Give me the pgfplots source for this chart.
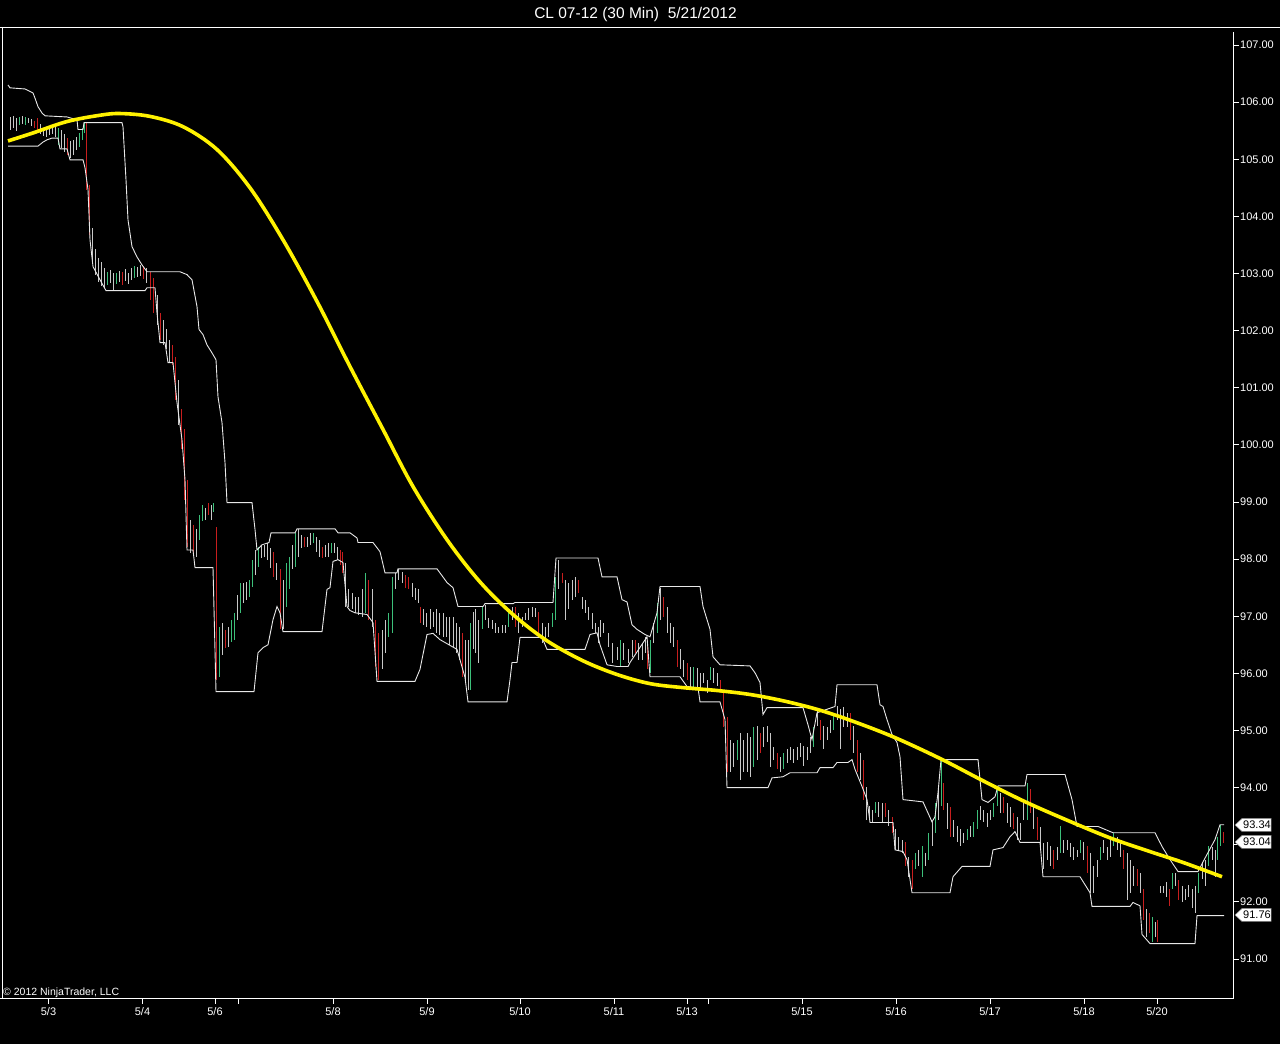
\documentclass[border=0pt]{standalone}
\usepackage{fontspec}
\setmainfont{Liberation Sans}
\usepackage{pgfplots}
\pgfplotsset{compat=1.18}
\usepackage{pgfplotstable}
\definecolor{bargray}{HTML}{C8C8C8}
\definecolor{bargreen}{HTML}{3CC07A}
\definecolor{barred}{HTML}{C81E1E}
\definecolor{chan}{HTML}{E8E8E8}
\newcommand\lbl{\fontsize{11}{13}\selectfont}

\pgfplotstableread{
x h l
10 105.74 105.52
13 105.76 105.55
16 105.73 105.50
22 105.76 105.62
28 105.73 105.64
31 105.71 105.59
40 105.62 105.45
43 105.55 105.41
46 105.52 105.39
49 105.53 105.43
52 105.57 105.45
55 105.59 105.39
61 105.52 105.20
64 105.45 105.13
70 105.32 105.03
73 105.34 105.08
76 105.39 105.16
92 103.80 103.20
95 103.42 102.98
98 103.28 102.86
101 103.20 102.79
104 103.10 102.75
110 103.07 102.84
113 103.01 102.70
119 103.05 102.86
125 103.07 102.87
128 103.01 102.82
131 103.10 102.89
137 103.12 102.94
140 103.15 102.96
146 103.10 102.84
157 102.63 102.10
163 102.19 101.75
166 102.02 101.67
169 101.84 101.45
178 101.14 100.35
190 98.69 98.11
196 98.52 98.04
205 98.90 98.69
211 98.95 98.69
222 96.89 96.33
228 96.82 96.47
237 97.38 96.94
243 97.59 97.24
246 97.60 97.29
255 98.16 97.73
261 98.25 98.02
264 98.25 98.04
267 98.29 97.99
270 98.20 97.85
276 97.94 97.64
283 97.64 96.77
292 98.25 97.82
298 98.52 98.04
301 98.43 98.20
307 98.39 98.22
310 98.46 98.25
316 98.39 98.13
319 98.34 98.04
325 98.25 98.04
328 98.29 98.04
334 98.29 98.11
337 98.22 97.99
345 97.94 97.17
348 97.47 97.17
352 97.41 97.12
355 97.34 97.06
358 97.34 97.03
362 97.47 96.99
372 97.47 96.82
382 96.76 96.07
385 96.94 96.36
395 97.76 97.47
398 97.82 97.64
402 97.78 97.59
412 97.59 97.34
415 97.50 97.29
418 97.47 97.24
423 97.12 96.85
426 97.06 96.82
430 97.12 96.77
433 97.08 96.82
436 97.12 96.71
439 97.06 96.68
443 97.06 96.64
446 96.99 96.64
449 96.99 96.50
453 96.99 96.47
456 96.89 96.36
459 96.82 96.24
465 96.59 95.89
468 96.59 95.71
473 97.08 96.42
475 97.12 96.36
478 96.94 96.19
485 97.20 96.94
488 96.97 96.80
492 96.94 96.77
495 96.89 96.71
498 96.82 96.71
502 96.85 96.71
505 96.85 96.71
512 97.17 96.94
518 97.06 96.71
522 96.99 96.82
525 97.06 96.94
528 97.15 96.94
532 97.17 96.99
535 97.15 96.99
542 96.89 96.54
545 96.82 96.59
548 96.89 96.64
558 97.99 97.47
565 97.64 96.94
568 97.59 97.12
572 97.64 97.29
575 97.69 97.34
582 97.34 97.12
585 97.29 97.06
588 97.17 96.94
592 97.06 96.77
595 96.89 96.71
598 96.82 96.54
600 96.94 96.64
603 96.89 96.71
608 96.71 96.47
612 96.54 96.19
617 96.47 96.24
623 96.54 96.24
628 96.42 96.19
632 96.59 96.29
638 96.54 96.24
642 96.54 96.24
645 96.64 96.36
653 96.89 96.54
660 97.50 96.94
667 97.17 96.71
670 96.89 96.54
673 96.82 96.47
680 96.42 96.07
683 96.24 95.94
690 96.12 95.77
697 96.10 95.77
700 96.01 95.71
703 96.01 95.84
707 95.89 95.66
713 96.10 95.84
717 96.01 95.77
730 94.84 94.27
733 94.79 94.37
740 94.96 94.14
743 94.84 94.27
747 94.96 94.27
750 94.89 94.19
757 95.07 94.49
763 95.07 94.72
767 95.07 94.79
770 94.96 94.37
773 94.72 94.49
780 94.54 94.27
787 94.67 94.44
790 94.72 94.49
793 94.67 94.44
797 94.72 94.49
800 94.79 94.54
803 94.72 94.37
807 94.72 94.49
810 94.89 94.61
817 95.37 95.07
823 95.07 94.67
827 95.07 94.84
830 95.19 94.96
837 95.42 95.19
840 95.37 94.67
843 95.42 95.07
847 95.31 95.07
853 95.07 94.61
860 94.61 94.14
866 94.01 93.44
869 93.67 93.44
872 93.61 93.39
878 93.75 93.49
882 93.74 93.39
888 93.61 93.32
895 93.27 92.91
898 93.14 92.91
902 93.09 92.86
908 92.79 92.44
918 92.91 92.62
925 92.86 92.62
932 93.39 92.97
938 94.01 93.44
947 93.74 93.27
953 93.44 93.14
957 93.32 93.04
960 93.27 92.97
963 93.21 93.04
970 93.32 93.14
980 93.67 93.44
983 93.61 93.39
987 93.56 93.32
990 93.61 93.44
1000 93.91 93.56
1007 93.74 93.39
1010 93.67 93.32
1017 93.49 93.09
1020 93.39 93.09
1023 93.74 93.44
1033 93.67 93.27
1040 93.32 92.97
1043 93.04 92.57
1047 93.04 92.74
1050 92.97 92.62
1057 92.97 92.74
1063 93.09 92.86
1067 93.09 92.91
1070 93.04 92.79
1073 92.97 92.74
1077 92.91 92.79
1083 93.04 92.74
1090 92.86 92.16
1093 92.62 92.16
1097 92.74 92.44
1103 93.09 92.86
1107 92.97 92.74
1110 93.09 92.79
1117 93.14 92.91
1120 93.09 92.79
1127 92.86 92.04
1130 92.74 92.16
1133 92.62 92.27
1140 92.51 92.16
1146 91.87 91.39
1155 91.64 91.39
1160 92.27 92.16
1163 92.27 92.16
1166 92.34 92.09
1175 92.51 92.27
1182 92.27 91.99
1185 92.22 92.04
1188 92.30 92.09
1192 92.22 91.90
1195 92.27 91.81
1202 92.69 92.40
1205 92.74 92.27
1212 92.97 92.74
1215 92.91 92.44
}\graybars

\pgfplotstableread{
x h l
19 105.74 105.60
25 105.74 105.60
58 105.55 105.25
79 105.46 105.22
82 105.55 105.34
84 105.64 105.46
107 103.03 102.79
116 103.00 102.82
134 103.13 102.93
199 98.78 98.34
202 98.95 98.66
213 98.99 98.83
219 96.82 95.94
231 96.94 96.55
234 97.06 96.59
240 97.59 97.06
249 97.64 97.34
252 97.99 97.52
258 98.22 97.87
286 97.94 97.17
289 98.04 97.47
295 98.46 97.87
313 98.46 98.29
331 98.29 98.11
365 97.76 97.06
388 97.06 96.64
392 97.69 96.71
470 96.89 95.71
482 97.17 96.77
508 97.08 96.82
552 97.06 96.82
555 97.69 96.94
620 96.59 96.12
650 96.59 96.01
657 97.24 96.71
693 96.12 95.71
710 96.12 95.89
737 94.84 94.49
753 95.07 94.37
783 94.61 94.32
813 95.07 94.72
833 95.31 95.01
875 93.75 93.56
915 92.86 92.57
922 92.97 92.44
928 93.21 92.74
935 93.74 93.21
941 94.49 93.67
967 93.27 93.09
973 93.39 93.14
977 93.61 93.27
993 93.74 93.49
997 94.01 93.67
1027 94.09 93.44
1060 93.32 92.86
1080 93.09 92.86
1100 92.97 92.74
1113 93.21 92.97
1152 91.74 91.29
1172 92.51 92.22
1198 92.51 92.16
1208 92.97 92.62
1217 93.14 92.74
1220 93.35 92.97
}\greenbars

\pgfplotstableread{
x h l
34 105.67 105.55
37 105.73 105.48
67 105.38 105.08
86 105.64 104.47
89 104.55 103.68
122 103.03 102.80
143 103.13 102.91
150 103.03 102.54
153 102.92 102.31
160 102.31 101.84
172 101.75 101.40
175 101.54 100.79
181 100.62 99.92
184 100.27 99.04
187 99.39 98.22
193 98.60 98.08
208 98.99 98.78
216 98.57 95.89
225 96.76 96.45
273 98.13 97.69
280 97.82 96.77
304 98.39 98.22
322 98.22 98.02
340 98.16 97.90
342 98.13 97.76
368 97.64 96.94
375 96.94 96.12
378 96.71 95.89
405 97.73 97.50
408 97.69 97.47
420 97.17 96.89
462 96.71 95.94
515 97.17 96.82
538 97.08 96.64
562 97.76 97.59
578 97.64 97.41
635 96.59 96.36
647 96.59 96.07
663 97.34 96.99
677 96.59 96.12
687 96.19 95.89
720 95.89 95.66
723 95.71 95.07
727 95.24 94.27
760 94.96 94.61
777 94.61 94.32
820 95.19 94.84
850 95.31 94.84
857 94.84 94.27
863 94.49 93.79
885 93.74 93.49
892 93.49 93.21
905 93.04 92.62
912 92.74 92.22
943 94.09 93.61
950 93.67 93.14
1003 93.84 93.56
1013 93.56 93.27
1030 93.97 93.56
1037 93.49 93.09
1053 92.91 92.57
1087 92.97 92.51
1123 92.91 92.57
1137 92.57 92.27
1143 92.22 91.69
1149 91.81 91.46
1157 91.69 91.29
1169 92.22 91.92
1178 92.39 92.04
1223 93.22 93.04
}\redbars

\pgfplotstableread{
x p
8 106.30
10 106.25
25 106.23
33 106.16
35 106.07
38 105.92
42 105.81
45 105.76
67 105.74
77 105.69
78 105.52
83 105.52
84 105.64
122 105.64
123 105.57
126 104.64
128 103.94
132 103.47
137 103.29
142 103.15
147 103.03
180 103.03
187 102.98
192 102.89
197 102.42
199 102.02
203 101.93
207 101.75
212 101.61
216 101.49
218 100.84
222 100.39
225 99.69
227 98.99
252 98.99
255 98.52
257 98.16
262 98.25
269 98.29
271 98.46
295 98.46
297 98.53
335 98.53
338 98.46
350 98.46
357 98.37
358 98.29
373 98.29
380 98.13
385 97.76
397 97.76
398 97.83
437 97.83
447 97.59
453 97.50
458 97.17
483 97.17
485 97.22
513 97.22
515 97.24
553 97.24
556 98.02
598 98.02
602 97.69
617 97.69
622 97.29
627 97.25
632 96.85
637 96.77
645 96.68
650 96.64
657 97.06
660 97.52
700 97.52
703 97.17
710 96.77
713 96.29
720 96.15
750 96.13
755 96.01
760 95.84
763 95.28
767 95.40
803 95.40
808 95.10
812 94.84
817 95.31
835 95.42
837 95.80
877 95.80
880 95.45
883 95.42
887 95.19
892 94.93
897 94.79
900 94.54
903 93.79
923 93.75
932 93.40
935 93.49
938 93.91
941 94.49
978 94.49
982 93.79
988 93.74
995 93.84
998 94.03
1025 94.03
1027 94.23
1065 94.23
1072 93.79
1077 93.32
1098 93.32
1113 93.21
1155 93.21
1162 92.97
1170 92.74
1178 92.53
1198 92.53
1203 92.70
1215 93.09
1220 93.35
1224 93.35
}\uppertab

\pgfplotstableread{
x p
8 105.23
38 105.23
43 105.30
47 105.34
52 105.37
58 105.37
60 105.18
67 105.18
70 104.99
83 104.99
85 104.85
88 104.47
90 103.59
93 103.12
100 102.89
106 102.70
145 102.70
147 102.75
155 102.75
157 102.31
160 101.79
165 101.79
168 101.44
173 101.44
177 100.74
182 100.09
185 99.39
187 98.16
193 98.16
195 97.85
213 97.85
216 95.68
254 95.68
258 96.36
263 96.45
268 96.50
273 96.94
277 97.17
280 97.06
283 96.73
322 96.73
327 97.47
330 97.50
333 97.96
338 97.99
343 97.94
347 97.17
350 97.10
355 97.06
367 97.03
373 96.89
377 95.86
415 95.86
420 96.07
427 96.68
433 96.70
440 96.59
457 96.42
465 95.93
468 95.50
507 95.50
510 95.89
512 96.19
517 96.19
520 96.63
542 96.63
547 96.42
585 96.42
590 96.68
597 96.71
600 96.50
607 96.15
617 96.12
628 96.12
630 96.19
647 96.64
650 95.94
680 95.94
687 95.77
698 95.75
700 95.50
720 95.50
725 95.19
727 94.00
768 94.00
772 94.17
783 94.19
790 94.26
817 94.26
820 94.35
833 94.35
837 94.44
848 94.44
852 94.49
855 94.32
862 94.02
867 93.79
870 93.39
893 93.39
895 92.91
903 92.88
907 92.74
912 92.16
950 92.16
953 92.44
962 92.62
990 92.62
993 92.91
1003 92.95
1010 93.14
1015 93.23
1020 93.04
1040 93.04
1043 92.44
1080 92.44
1090 92.16
1092 91.92
1130 91.92
1133 91.99
1140 91.93
1142 91.43
1150 91.27
1195 91.27
1197 91.76
1224 91.76
}\lowertab

\pgfplotstableread{
x p
8 105.32
33 105.46
67 105.66
100 105.77
120 105.80
150 105.75
183 105.57
217 105.17
250 104.50
283 103.59
317 102.51
350 101.37
383 100.27
413 99.27
447 98.34
480 97.60
513 97.03
547 96.57
583 96.22
617 95.98
650 95.82
683 95.75
717 95.70
750 95.63
783 95.52
817 95.37
850 95.18
893 94.89
940 94.51
983 94.12
1023 93.77
1063 93.46
1110 93.12
1150 92.88
1183 92.69
1222 92.44
}\trendtab

\begin{document}
\begin{tikzpicture}[x=1pt,y=1pt]
\useasboundingbox (-2,-46) rectangle (1278,998);
\fill[black] (-2,-46) rectangle (1278,998);
\begin{axis}[
  at={(0,0)}, anchor=south west,
  width=1231pt, height=971pt, scale only axis,
  xmin=2, xmax=1233, ymin=90.317, ymax=107.315,
  axis line style={draw=none},
  /pgf/number format/assume math mode=true,
  tick align=outside,
  major tick length=6pt,
  tick style={white, line width=0.8pt},
  ytick pos=right, yticklabel pos=right,
  ytick={91,92,94,95,96,97,98,99,100,101,102,103,104,105,106,107},
  yticklabel style={/pgf/number format/.cd, fixed, fixed zerofill, precision=2, /tikz/.cd,
     font=\lbl, text=white, anchor=west, inner sep=1pt},
  xtick pos=left,
  xtick={48.5,142.5,215,333,427,520,614,687,802,896,990,1084,1157},
  xticklabels={5/3,5/4,5/6,5/8,5/9,5/10,5/11,5/13,5/15,5/16,5/17,5/18,5/20},
  extra x ticks={238,708},
  extra x tick labels={},
  xticklabel style={font=\lbl, text=white, anchor=north, inner sep=1pt, yshift=-2pt},
]
\addplot[draw=none, mark=none, error bars/.cd, y dir=both, y explicit, error mark=none,
  error bar style={draw=bargray, line width=0.9pt}]
  table[x=x, y expr={(\thisrow{h}+\thisrow{l})/2}, y error expr={(\thisrow{h}-\thisrow{l})/2}] {\graybars};
\addplot[draw=none, mark=none, error bars/.cd, y dir=both, y explicit, error mark=none,
  error bar style={draw=bargreen, line width=0.9pt}]
  table[x=x, y expr={(\thisrow{h}+\thisrow{l})/2}, y error expr={(\thisrow{h}-\thisrow{l})/2}] {\greenbars};
\addplot[draw=none, mark=none, error bars/.cd, y dir=both, y explicit, error mark=none,
  error bar style={draw=barred, line width=0.9pt}]
  table[x=x, y expr={(\thisrow{h}+\thisrow{l})/2}, y error expr={(\thisrow{h}-\thisrow{l})/2}] {\redbars};
\addplot[chan, line width=0.9pt, mark=none] table[x=x, y=p] {\uppertab};
\addplot[chan, line width=0.9pt, mark=none] table[x=x, y=p] {\lowertab};
\addplot[yellow, line width=3.6pt, mark=none, smooth, tension=0.55] table[x=x, y=p] {\trendtab};
\end{axis}
% frame
\draw[white, line width=0.9pt] (-2,971) -- (1278,971);
\draw[white, line width=0.9pt] (0,971) -- (0,0);
\draw[white, line width=0.9pt] (-2,0) -- (1231,0) -- (1231,966);
% tick at 93 hidden behind the price marker in the original
\draw[white, line width=0.8pt] (1231,153.5) -- (1237,153.5);
% title and copyright
\node[anchor=base, text=white, inner sep=0pt, font=\fontsize{15.5}{18}\selectfont] at (633.5,979) {CL 07-12 (30 Min)\ \ 5/21/2012};
\node[anchor=base west, text=white, inner sep=0pt, font=\fontsize{10.5}{12}\selectfont] at (1,2) {© 2012 NinjaTrader, LLC};
% price markers
\foreach \yy/\txt in {173/93.34, 156/93.04, 83/91.76}{
  \filldraw[fill=white, draw=gray, line width=0.5pt] (1233,\yy) -- (1240,\yy+6.5) -- (1269,\yy+6.5) -- (1269,\yy-6.5) -- (1240,\yy-6.5) -- cycle;
  \node[anchor=west, text=black, inner sep=0pt, font=\lbl] at (1241,\yy) {\txt};
}
\end{tikzpicture}
\end{document}
